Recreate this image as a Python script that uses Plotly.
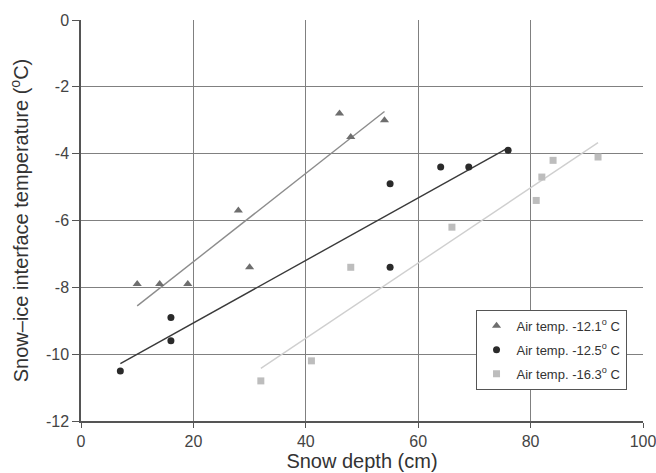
import numpy as np
import plotly.graph_objects as go

# Data
depth_a = [10, 14, 19, 28, 30, 46, 48, 54]
temp_a = [-7.9, -7.9, -7.9, -5.7, -7.4, -2.8, -3.5, -3.0]

depth_b = [7, 16, 16, 55, 55, 64, 69, 76]
temp_b = [-10.5, -8.9, -9.6, -4.9, -7.4, -4.4, -4.4, -3.9]

depth_c = [32, 41, 48, 66, 81, 82, 84, 92]
temp_c = [-10.8, -10.2, -7.4, -6.2, -5.4, -4.7, -4.2, -4.1]

names = ["Air temp. -12.1<sup>o</sup> C", "Air temp. -12.5<sup>o</sup> C", "Air temp. -16.3<sup>o</sup> C"]
x_ticks = [0, 20, 40, 60, 80, 100]
y_ticks = [0, -2, -4, -6, -8, -10, -12]
y_tick_text = ["0", "-2", "-4", "-6", "-8", "-10", "-12"]

series = [
    (depth_a, temp_a, "triangle-up", "#6e6e6e", "#8c8c8c", 8),
    (depth_b, temp_b, "circle", "#2a2a2a", "#3a3a3a", 7),
    (depth_c, temp_c, "square", "#bdbdbd", "#cfcfcf", 7),
]

fig = go.Figure()
for (xs, ys, sym, mcol, lcol, msz), name in zip(series, names):
    slope, icpt = np.polyfit(xs, ys, 1)
    xl = np.array([min(xs), max(xs)])
    fig.add_trace(go.Scatter(x=xl, y=slope * xl + icpt, mode="lines",
                             line=dict(color=lcol, width=1.4), showlegend=False,
                             hoverinfo="skip"))
for i, ((xs, ys, sym, mcol, lcol, msz), name) in enumerate(zip(series, names)):
    fig.add_trace(go.Scatter(x=xs, y=ys, mode="markers", name=name,
                             legendgroup="g%d" % i,
                             marker=dict(symbol=sym, size=msz, color=mcol)))

font = "Liberation Sans, Arial, sans-serif"
fig.update_layout(
    width=656, height=473,
    margin=dict(l=81, r=13, t=20, b=52),
    paper_bgcolor="white", plot_bgcolor="white",
    font=dict(family=font, color="#333333", size=16),
    legend=dict(x=0.702, y=0.277, xanchor="left", yanchor="top",
                bordercolor="#555555", borderwidth=1, bgcolor="white",
                font=dict(size=13, family=font, color="#333333"),
                tracegroupgap=4, itemwidth=30),
    xaxis=dict(range=[0, 100], tickvals=x_ticks, showgrid=True, gridcolor="#808080",
               gridwidth=1, showline=True, linecolor="#555555", linewidth=1.5,
               ticks="outside", ticklen=5, tickcolor="#555555", zeroline=False,
               automargin=False, ticklabeloverflow="allow",
               title=dict(text="Snow depth (cm)", font=dict(size=20), standoff=3),
               tickfont=dict(size=16, color="#444444")),
    yaxis=dict(range=[-12, 0], tickvals=y_ticks, ticktext=y_tick_text, showgrid=True,
               gridcolor="#808080",
               gridwidth=1, showline=True, linecolor="#555555", linewidth=1.5,
               ticks="outside", ticklen=7, tickcolor="#555555", zeroline=False,
               automargin=False, ticklabeloverflow="allow",
               title=dict(text="Snow\u2013ice interface temperature (<sup>o</sup>C)",
                          font=dict(size=20), standoff=12),
               tickfont=dict(size=16, color="#444444")),
)
fig.write_html("out.html", config={"displayModeBar": False},
               post_script="document.body.style.margin='0';")
